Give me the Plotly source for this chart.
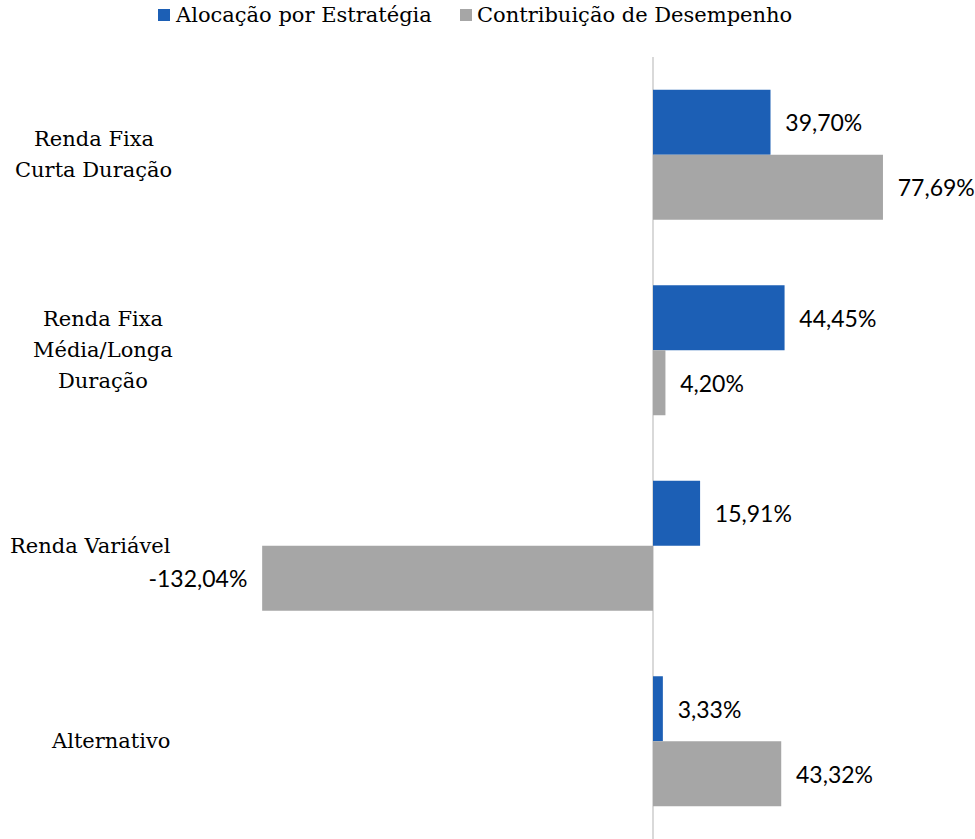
import plotly.graph_objects as go

categories = ["Renda Fixa<br>Curta Duração", "Renda Fixa<br>Média/Longa<br>Duração", "Renda Variável", "Alternativo"]
cat_ids = ["RF Curta", "RF Media", "RV", "Alt"]
alocacao = [39.70, 44.45, 15.91, 3.33]
contribuicao = [77.69, 4.20, -132.04, 43.32]
series_names = ["Alocação por Estratégia", "Contribuição de Desempenho"]
series_colors = ["#1c5fb5", "#a6a6a6"]

W, H = 975, 839
M_T, M_B = 57, 0
X0_PX = 653.0
PX_PER = 2.96
CAT_FONT = 21
LINE_H = 31
LABEL_RIGHT = 172
# approximate rendered width (px) of the widest line of each multi-line label block
BLOCK_W = {"RF Curta": 157, "RF Media": 138}

def fmt(v):
    s = f"{v:.2f}".replace(".", ",") + "%"
    pad = "\u00a0\u00a0"
    return pad + s if v >= 0 else s + pad

fig = go.Figure()
for vals, name, col in zip([alocacao, contribuicao], series_names, series_colors):
    fig.add_trace(go.Bar(
        y=cat_ids, x=vals, orientation="h", name=name,
        marker=dict(color=col, line=dict(width=0)),
        text=[fmt(v) for v in vals], textposition="outside",
        textfont=dict(family="Lato", size=23, color="#000000"),
        cliponaxis=False,
    ))

# category labels: centred lines, block right edge at LABEL_RIGHT px
for cid, label in zip(cat_ids, categories):
    lines = label.split("<br>")
    n = len(lines)
    if n == 1:
        fig.add_annotation(
            x=LABEL_RIGHT / W, xref="paper", y=cid, yref="y",
            text=label, showarrow=False, xanchor="right", yanchor="middle",
            borderpad=0, font=dict(family="DejaVu Serif", size=CAT_FONT, color="#000000"),
        )
        continue
    cx = LABEL_RIGHT - BLOCK_W[cid] / 2
    for i, ln in enumerate(lines):
        fig.add_annotation(
            x=cx / W, xref="paper", y=cid, yref="y",
            text=ln, showarrow=False, xanchor="center", yanchor="middle",
            borderpad=0, yshift=((n - 1) / 2 - i) * LINE_H,
            font=dict(family="DejaVu Serif", size=CAT_FONT, color="#000000"),
        )

# custom legend (square + text)
plot_h = H - M_T - M_B
def ypaper(py):
    return (H - M_B - py) / plot_h
leg_items = [(158, series_names[0], series_colors[0]), (460, series_names[1], series_colors[1])]
for xpx, name, col in leg_items:
    fig.add_shape(type="rect", xref="paper", yref="paper",
                  x0=xpx / W, x1=(xpx + 12) / W, y0=ypaper(21), y1=ypaper(9),
                  fillcolor=col, line=dict(width=0))
    fig.add_annotation(x=(xpx + 15) / W, xref="paper", y=ypaper(15), yref="paper",
                       text=name, showarrow=False, xanchor="left", yanchor="middle",
                       font=dict(family="DejaVu Serif", size=21, color="#000000"))

fig.update_layout(
    width=W, height=H,
    margin=dict(l=0, r=0, t=M_T, b=M_B, autoexpand=False),
    paper_bgcolor="white", plot_bgcolor="white",
    barmode="group", bargap=0.335, bargroupgap=0,
    showlegend=False,
    xaxis=dict(range=[-X0_PX / PX_PER, (W - X0_PX) / PX_PER], showgrid=False, showticklabels=False,
               zeroline=True, zerolinecolor="#d9d9d9", zerolinewidth=2, fixedrange=True),
    yaxis=dict(autorange="reversed", showticklabels=False, showgrid=False, zeroline=False,
               type="category", fixedrange=True),
)

fig.write_html("out.html", config={"displayModeBar": False},
               post_script="document.body.style.margin='0';document.body.style.padding='0';")
